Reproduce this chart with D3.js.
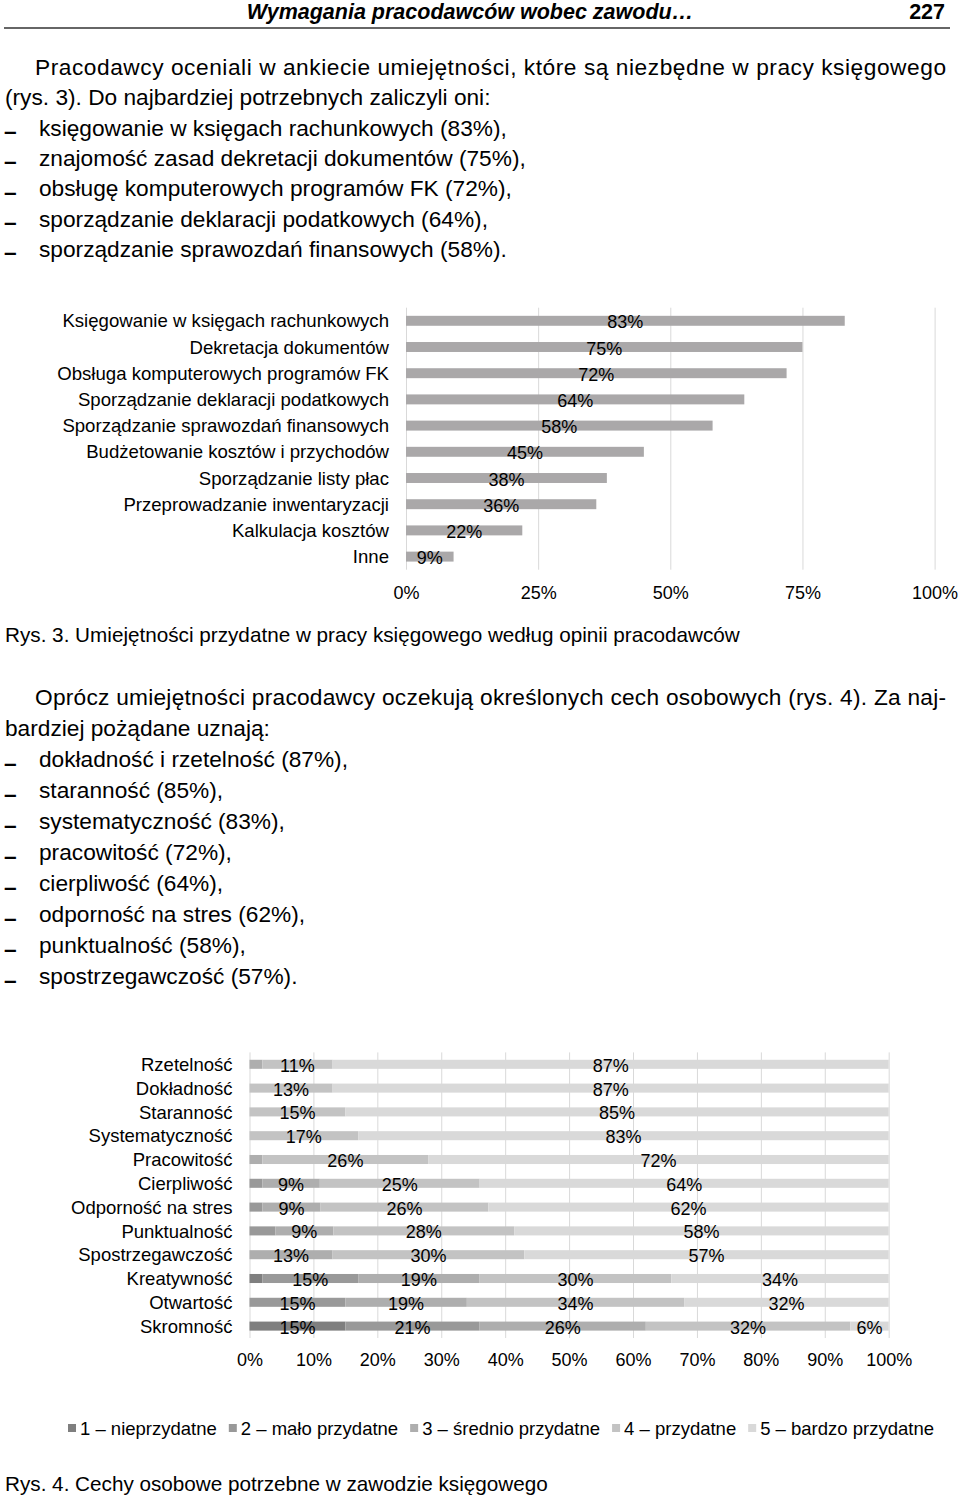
<!DOCTYPE html>
<html><head><meta charset="utf-8">
<script src="https://cdn.jsdelivr.net/npm/d3@7"></script>
<style>
html,body{margin:0;padding:0;background:#fff;}
svg text{font-family:"Liberation Sans",Arial,sans-serif;fill:#000;}
</style></head>
<body>
<script>
// ---------- DATA ----------
const headerTitle = "Wymagania pracodawców wobec zawodu…";
const pageNumber = "227";
const para1 = ["Pracodawcy oceniali w ankiecie umiejętności, które są niezbędne w pracy księgowego",
               "(rys. 3). Do najbardziej potrzebnych zaliczyli oni:"];
const bullets1 = ["księgowanie w księgach rachunkowych (83%),",
                  "znajomość zasad dekretacji dokumentów (75%),",
                  "obsługę komputerowych programów FK (72%),",
                  "sporządzanie deklaracji podatkowych (64%),",
                  "sporządzanie sprawozdań finansowych (58%)."];
const caption3 = "Rys. 3. Umiejętności przydatne w pracy księgowego według opinii pracodawców";
const para2 = ["Oprócz umiejętności pracodawcy oczekują określonych cech osobowych (rys. 4). Za naj-",
               "bardziej pożądane uznają:"];
const bullets2 = ["dokładność i rzetelność (87%),", "staranność (85%),", "systematyczność (83%),",
                  "pracowitość (72%),", "cierpliwość (64%),", "odporność na stres (62%),",
                  "punktualność (58%),", "spostrzegawczość (57%)."];
const caption4 = "Rys. 4. Cechy osobowe potrzebne w zawodzie księgowego";

// Chart 1
const skills = ["Księgowanie w księgach rachunkowych","Dekretacja dokumentów",
  "Obsługa komputerowych programów FK","Sporządzanie deklaracji podatkowych",
  "Sporządzanie sprawozdań finansowych","Budżetowanie kosztów i przychodów",
  "Sporządzanie listy płac","Przeprowadzanie inwentaryzacji","Kalkulacja kosztów","Inne"];
const skillValues = [83,75,72,64,58,45,38,36,22,9];
const ticks1 = [0,25,50,75,100];

// Chart 2
const traits = ["Rzetelność","Dokładność","Staranność","Systematyczność","Pracowitość",
  "Cierpliwość","Odporność na stres","Punktualność","Spostrzegawczość","Kreatywność",
  "Otwartość","Skromność"];
const seriesNames = ["1 – nieprzydatne","2 – mało przydatne","3 – średnio przydatne","4 – przydatne","5 – bardzo przydatne"];
const s1 = [0,0,0,0,0,0,0,0,0,2,0,15];
const s2 = [0,0,0,0,0,2,2,4,0,15,15,21];
const s3 = [2,0,0,0,2,9,9,9,13,19,19,26];
const s4 = [11,13,15,17,26,25,26,28,30,30,34,32];
const s5 = [87,87,85,83,72,64,62,58,57,34,32,6];
const ticks2 = [0,0.1,0.2,0.3,0.4,0.5,0.6,0.7,0.8,0.9,1];

// ---------- DRAW ----------
const W = 960, H = 1498;
const svg = d3.select("body").append("svg").attr("width", W).attr("height", H);
svg.append("rect").attr("width", W).attr("height", H).attr("fill", "#fff");

const BODY = 22.7;
// Header
svg.append("text").attr("x", 470).attr("y", 19).attr("text-anchor","middle")
  .style("font-size","21.5px").style("font-weight","bold").style("font-style","italic").text(headerTitle);
svg.append("text").attr("x", 945).attr("y", 19).attr("text-anchor","end")
  .style("font-size","21.5px").style("font-weight","bold").text(pageNumber);
svg.append("line").attr("x1",4).attr("x2",950).attr("y1",28).attr("y2",28)
  .attr("stroke","#333").attr("stroke-width",1.5);

function paragraph(lines, y0, step){
  lines.forEach((t,i)=>{
    const x = i===0 ? 35 : 5;
    const tx = svg.append("text").attr("x",x).attr("y",y0+i*step).style("font-size",BODY+"px").text(t);
    if(i===0){ tx.attr("textLength", 946-x).attr("lengthAdjust","spacing"); }
  });
}
function bullets(lines, y0, step){
  lines.forEach((t,i)=>{
    svg.append("text").attr("x",4).attr("y",y0+i*step+3.5).style("font-size",BODY+"px")
      .style("font-weight","bold").text("–");
    svg.append("text").attr("x",39).attr("y",y0+i*step).style("font-size",BODY+"px").text(t);
  });
}
paragraph(para1, 75, 30.3);
bullets(bullets1, 75+2*30.3, 30.3);
svg.append("text").attr("x",5).attr("y",642).style("font-size","20.7px").text(caption3);
paragraph(para2, 705, 31);
bullets(bullets2, 767, 31);
svg.append("text").attr("x",5).attr("y",1491).style("font-size","20.7px").text(caption4);

// ---------- Chart 1 ----------
const x1 = d3.scaleLinear().domain([0,100]).range([406,934.6]);
const y1 = d3.scaleBand().domain(skills).range([307.7, 307.7+26.2*skills.length])
  .paddingInner(0.62).paddingOuter(0.31);
const g1 = svg.append("g");
const ax1 = g1.append("g").attr("transform",`translate(0,${y1.range()[1]})`)
  .call(d3.axisBottom(x1).tickValues(ticks1).tickFormat(d=>d+"%")
    .tickSizeInner(-(y1.range()[1]-y1.range()[0])).tickSizeOuter(0).tickPadding(17));
ax1.select(".domain").remove();
ax1.selectAll("line").attr("stroke","#d9d9d9");
ax1.selectAll("text").style("font-size","18px").attr("fill","#000").style("font-family",null);
g1.selectAll("rect.bar").data(skills).join("rect").attr("class","bar")
  .attr("x", x1(0)).attr("y", d=>y1(d)).attr("height", y1.bandwidth())
  .attr("width", (d,i)=>x1(skillValues[i])-x1(0)).attr("fill","#aaa8a9");
g1.selectAll("text.cat").data(skills).join("text").attr("class","cat")
  .attr("x",389).attr("y", d=>y1(d)+y1.bandwidth()/2+6.5).attr("text-anchor","end")
  .style("font-size","18.6px").text(d=>d);
g1.selectAll("text.val").data(skills).join("text").attr("class","val")
  .attr("x",(d,i)=>(x1(0)+x1(skillValues[i]))/2).attr("y", d=>y1(d)+y1.bandwidth()/2+7.5)
  .attr("text-anchor","middle").style("font-size","18px").text((d,i)=>skillValues[i]+"%");

// ---------- Chart 2 ----------
const table = traits.map((t,i)=>({trait:t, a:s1[i], b:s2[i], c:s3[i], d:s4[i], e:s5[i]}));
const keys = ["a","b","c","d","e"];
const colors = ["#7f7f7f","#999999","#aeaeae","#c3c3c3","#d9d9d9"];
const stacked = d3.stack().keys(keys).offset(d3.stackOffsetExpand)(table);
const x2 = d3.scaleLinear().domain([0,1]).range([249.5,888.7]);
const y2 = d3.scaleBand().domain(traits).range([1052.4, 1052.4+23.8*traits.length])
  .paddingInner(0.62).paddingOuter(0.31);
const g2 = svg.append("g");
const ax2 = g2.append("g").attr("transform",`translate(0,${y2.range()[1]})`)
  .call(d3.axisBottom(x2).tickValues(ticks2).tickFormat(d3.format(".0%"))
    .tickSizeInner(-(y2.range()[1]-y2.range()[0])).tickSizeOuter(0).tickPadding(15));
ax2.select(".domain").remove();
ax2.selectAll("line").attr("stroke","#d9d9d9");
ax2.selectAll("text").style("font-size","18px").attr("fill","#000").style("font-family",null);
const layers = g2.selectAll("g.layer").data(stacked).join("g").attr("class","layer")
  .attr("fill",(d,i)=>colors[i]);
layers.selectAll("rect").data(d=>d).join("rect")
  .attr("x", d=>x2(d[0])).attr("width", d=>x2(d[1])-x2(d[0]))
  .attr("y", d=>y2(d.data.trait)).attr("height", y2.bandwidth());
const labelsG = g2.append("g");
stacked.forEach(layer=>{
  layer.forEach(d=>{
    const v = d.data[layer.key];
    if(v >= 5){
      labelsG.append("text").attr("x",(x2(d[0])+x2(d[1]))/2)
        .attr("y", y2(d.data.trait)+y2.bandwidth()/2+7.5).attr("text-anchor","middle")
        .style("font-size","18px").text(v+"%");
    }
  });
});
g2.selectAll("text.cat").data(traits).join("text").attr("class","cat")
  .attr("x",232.5).attr("y", d=>y2(d)+y2.bandwidth()/2+6.7).attr("text-anchor","end")
  .style("font-size","18.5px").text(d=>d);

// Legend
const leg = svg.append("g");
let lx = 0;
seriesNames.forEach((n,i)=>{
  const it = leg.append("g").attr("transform",`translate(${lx},0)`);
  it.append("rect").attr("x",0).attr("y",-4).attr("width",8).attr("height",8).attr("fill",colors[i]);
  const t = it.append("text").attr("x",12).attr("y",6.5).style("font-size","18.5px").text(n);
  lx += 12 + t.node().getComputedTextLength() + 12;
});
const legW = lx - 12;
leg.attr("transform",`translate(${501 - legW/2},1428)`);
</script>
</body></html>
